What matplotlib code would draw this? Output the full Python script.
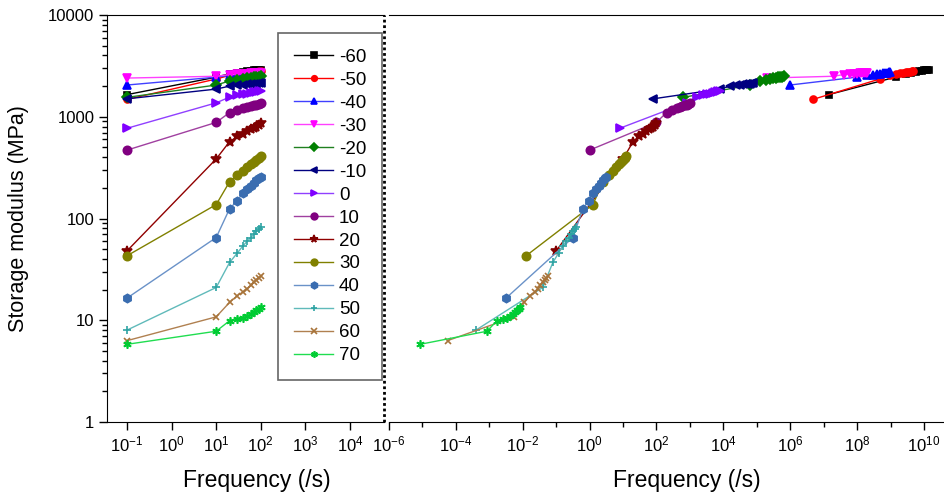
import numpy as np
import matplotlib
matplotlib.use("Agg")
import matplotlib.pyplot as plt
from matplotlib.ticker import NullLocator, NullFormatter, FixedLocator, FuncFormatter

plt.rcParams['font.family'] = ['Liberation Sans', 'DejaVu Sans']
plt.rcParams['mathtext.fontset'] = 'custom'
plt.rcParams['mathtext.rm'] = 'Liberation Sans'
plt.rcParams['mathtext.it'] = 'Liberation Sans:italic'

# frequency sweep (Hz) shared by every temperature
freq = [0.1, 10, 20, 30, 40, 50, 60, 70, 80, 90, 100]

temps = ['-60', '-50', '-40', '-30', '-20', '-10', '0', '10', '20', '30', '40', '50', '60', '70']

# storage modulus (MPa)
E_m60 = [1650, 2450, 2650, 2720, 2770, 2800, 2830, 2850, 2870, 2890, 2900]
E_m50 = [1480, 2350, 2550, 2620, 2670, 2710, 2740, 2760, 2780, 2800, 2820]
E_m40 = [2050, 2450, 2550, 2600, 2630, 2660, 2680, 2700, 2720, 2730, 2750]
E_m30 = [2400, 2500, 2600, 2620, 2640, 2660, 2670, 2680, 2690, 2700, 2710]
E_m20 = [1550, 2050, 2250, 2300, 2350, 2380, 2410, 2440, 2460, 2480, 2500]
E_m10 = [1500, 1870, 2000, 2040, 2070, 2090, 2100, 2110, 2120, 2140, 2150]
E_0 = [770, 1370, 1560, 1620, 1660, 1690, 1720, 1740, 1760, 1780, 1800]
E_10 = [470, 880, 1100, 1170, 1210, 1240, 1270, 1290, 1310, 1330, 1350]
E_20 = [48, 385, 570, 640, 680, 720, 750, 780, 800, 830, 860]
E_30 = [43, 137, 230, 270, 295, 320, 340, 360, 380, 395, 410]
E_40 = [16.5, 65, 125, 150, 180, 195, 210, 225, 238, 248, 258]
E_50 = [8.0, 21, 37, 46, 54, 60, 65, 70, 75, 79, 83]
E_60 = [6.3, 10.8, 15, 17.5, 19, 20.5, 22, 23.5, 25, 26, 27]
E_70 = [5.8, 7.8, 9.9, 10.3, 10.6, 11.0, 11.5, 12.0, 12.5, 13.0, 13.5]

# log10 shift factors used for the master curve (right panel)
log_aT = [8.15, 7.68, 6.99, 6.3, 3.8, 2.9, 1.9, 1.0, 0.0, -0.9, -1.5, -2.4, -3.25, -4.07]

moduli = [E_m60, E_m50, E_m40, E_m30, E_m20, E_m10, E_0, E_10, E_20, E_30, E_40, E_50, E_60, E_70]
colors = ['#000000', '#FF0000', '#0000FF', '#FF00FF', '#008000', '#000080', '#8000FF',
          '#800080', '#800000', '#808000', '#3A6DB0', '#2EA3A3', '#A8743A', '#00CC33']
lcolors = ['#000000', '#FF0000', '#4040FF', '#FF40FF', '#208020', '#000080', '#9040FF',
           '#A040A0', '#900000', '#808000', '#6A92C8', '#60BABA', '#B08050', '#20DD50']
markers = ['s', 'o', '^', 'v', 'D', '<', '>', 'o', '*', 'o', 'h', '+', 'x', (6, 2, 0)]
msizes = [5, 5, 6, 6, 5, 6, 6, 6, 7, 6, 6, 6, 5, 6]

fig = plt.figure(figsize=(9.45, 4.94), dpi=100)
W, H = 945, 494
ax1 = fig.add_axes([107 / W, 1 - 422 / H, (384 - 107) / W, (422 - 15) / H])
ax2 = fig.add_axes([389 / W, 1 - 422 / H, (945 - 389) / W, (422 - 15) / H])

for i, t in enumerate(temps):
    f = np.array(freq)
    ax1.plot(f, moduli[i], color=lcolors[i], lw=1, marker=markers[i], ms=msizes[i],
             mfc=colors[i], mec=colors[i], mew=1.2, label=t)
    ax2.plot(f * 10.0 ** log_aT[i], moduli[i], color=lcolors[i], lw=1, marker=markers[i],
             ms=msizes[i], mfc=colors[i], mec=colors[i], mew=1.2)

for ax in (ax1, ax2):
    ax.set_xscale('log')
    ax.set_yscale('log')
    ax.set_ylim(1, 10000)
    ax.tick_params(which='major', length=6, width=1, labelsize=12, pad=3)
    ax.tick_params(which='minor', length=3.5, width=1)
    ax.set_xlabel('Frequency (/s)', fontsize=16.5)

ax1.set_xlim(10 ** -1.448, 10 ** 4.762)
ax1.xaxis.set_minor_locator(NullLocator())
ax1.set_xticks(10.0 ** np.arange(-1, 5))
ax1.yaxis.set_major_formatter(FuncFormatter(lambda v, p: f'{v:g}'))
ax1.spines['right'].set_visible(False)
# dotted divider between the two panels
ax1.plot([1, 1], [0, 1], transform=ax1.transAxes, color='black', lw=2,
         ls=(0, (1, 1)), clip_on=False, zorder=5)
ax1.set_ylabel('Storage modulus (MPa)', fontsize=15.5)
ax1.yaxis.set_label_coords(-0.28, 0.5)
ax1.xaxis.set_label_coords(0.54, -0.115)

ax2.set_xlim(1e-6, 10 ** 10.63)
ax2.xaxis.set_major_locator(FixedLocator(10.0 ** np.arange(-6, 11, 2)))
ax2.xaxis.set_minor_locator(FixedLocator(10.0 ** np.arange(-5, 10, 2)))
ax2.xaxis.set_minor_formatter(NullFormatter())
ax2.spines['left'].set_visible(False)
ax2.spines['right'].set_visible(False)
ax2.tick_params(axis='y', which='both', left=False, labelleft=False)
ax2.xaxis.set_label_coords(0.536, -0.115)

leg = ax1.legend(loc='upper left', bbox_to_anchor=(278 / W, 1 - 33 / H),
                 bbox_transform=fig.transFigure, fontsize=13.5, frameon=True,
                 fancybox=False, edgecolor='#404040', handlelength=2.1,
                 handletextpad=0.3, labelspacing=0.31, borderpad=0.85,
                 borderaxespad=0, markerscale=0.8)
leg.get_frame().set_linewidth(1.2)

fig.savefig('out.png', dpi=100)
